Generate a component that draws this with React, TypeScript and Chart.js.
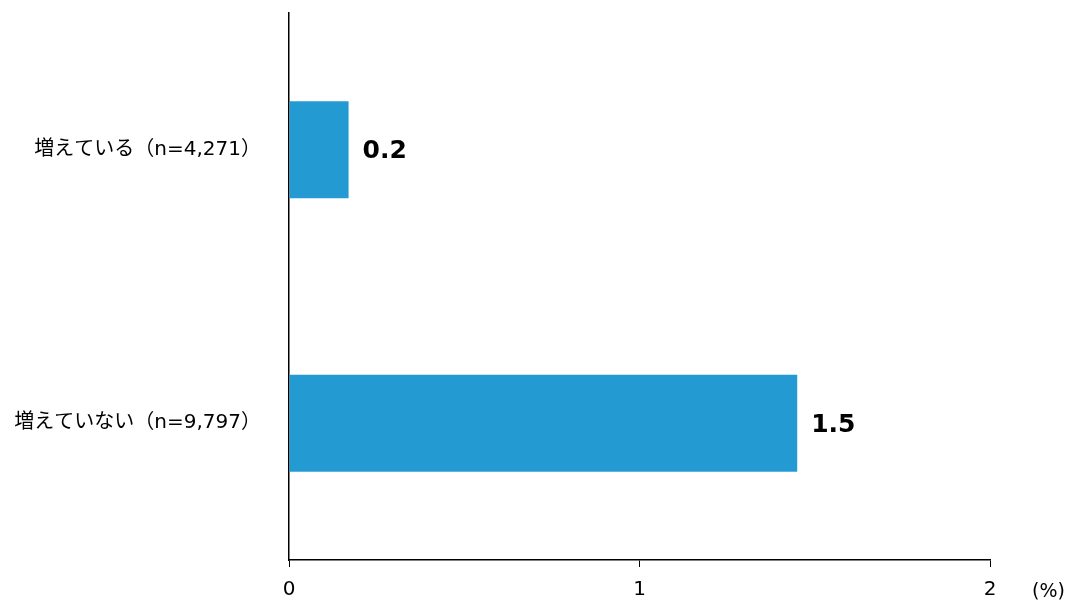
import React, { useEffect, useRef } from "react";
import Chart from "chart.js/auto";

const categories = ["増えている（n=4,271）", "増えていない（n=9,797）"];
const values = [0.17, 1.45];
const valueLabels = ["0.2", "1.5"];
const xTicks = [0, 1, 2];

const FONT = "'DejaVu Sans', 'Noto Sans CJK JP', sans-serif";

const labelPlugin = {
  id: "barLabels",
  afterDatasetsDraw(chart: any) {
    const { ctx } = chart;
    const meta = chart.getDatasetMeta(0);
    ctx.save();
    ctx.fillStyle = "#000";
    ctx.font = `bold 25px ${FONT}`;
    ctx.textAlign = "left";
    ctx.textBaseline = "middle";
    meta.data.forEach((bar: any, i: number) => {
      ctx.fillText(valueLabels[i], bar.x + 14, bar.y + 2);
    });
    // unit label
    ctx.font = `19px ${FONT}`;
    ctx.fillText("(%)", chart.chartArea.right + 42, chart.chartArea.bottom + 32);
    ctx.restore();
  }
};

export default function App() {
  const canvasRef = useRef<HTMLCanvasElement | null>(null);
  useEffect(() => {
    document.body.style.margin = "0";
    if (!canvasRef.current) return;
    const ctx = canvasRef.current.getContext("2d")!;
    const chart = new Chart(ctx, {
      type: "bar",
      data: {
        labels: categories,
        datasets: [
          {
            data: values,
            backgroundColor: "#239bd2",
            categoryPercentage: 1,
            barPercentage: 0.355
          }
        ]
      },
      options: {
        indexAxis: "y",
        animation: false,
        responsive: false,
        devicePixelRatio: 1,
        layout: { padding: { top: 13, right: 80, left: 0, bottom: 0 } },
        plugins: { legend: { display: false }, tooltip: { enabled: false } },
        scales: {
          x: {
            min: 0,
            max: 2,
            afterBuildTicks: (axis: any) => {
              axis.ticks = xTicks.map((v) => ({ value: v }));
            },
            grid: { drawOnChartArea: false, drawTicks: true, tickLength: 7, color: "#000" },
            border: { color: "#000", width: 1.5 },
            ticks: { color: "#000", font: { family: FONT, size: 20 }, padding: 11, maxRotation: 0 },
            afterFit: (axis: any) => {
              axis.height = 40;
              axis.paddingLeft = 0;
              axis.paddingRight = 0;
            }
          },
          y: {
            grid: { display: false },
            border: { color: "#000", width: 1.5 },
            ticks: { color: "#000", font: { family: FONT, size: 20 }, padding: 20 },
            afterFit: (axis: any) => {
              axis.width = 289;
              axis.paddingTop = 0;
              axis.paddingBottom = 0;
            }
          }
        }
      },
      plugins: [labelPlugin]
    });
    return () => chart.destroy();
  }, []);

  return <canvas ref={canvasRef} width={1070} height={600} style={{ width: 1070, height: 600, display: "block" }} />;
}
